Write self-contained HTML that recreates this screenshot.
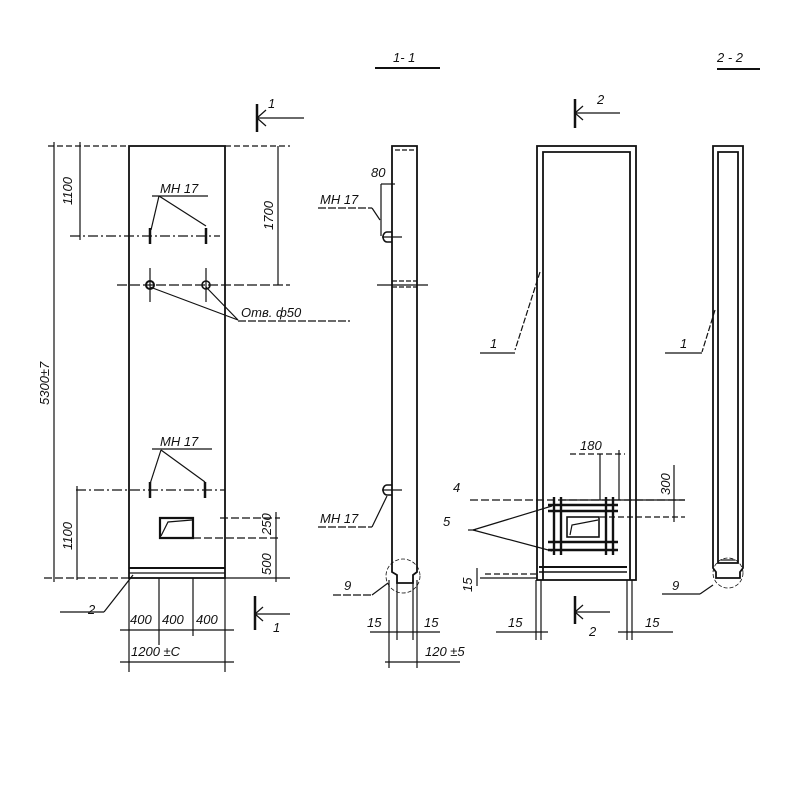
<!DOCTYPE html>
<html><head><meta charset="utf-8"><style>
html,body{margin:0;padding:0;background:#fff}
svg{display:block}
text{font-family:"Liberation Sans",sans-serif;font-style:italic;fill:#111;font-size:13px}
</style></head><body>
<svg width="800" height="800" viewBox="0 0 800 800" xmlns="http://www.w3.org/2000/svg">
<g stroke="#111" fill="none" stroke-width="1.2">
<!-- main panel -->
<rect x="129" y="146" width="96" height="432" stroke-width="1.8"/>
<line x1="129" y1="568" x2="225" y2="568" stroke-width="2"/>
<line x1="129" y1="573" x2="225" y2="573"/>
<!-- top dims -->
<line x1="48" y1="146" x2="129" y2="146" stroke-dasharray="6 3"/>
<line x1="225" y1="146" x2="290" y2="146" stroke-dasharray="6 3"/>
<line x1="54" y1="142" x2="54" y2="582"/>
<line x1="80" y1="142" x2="80" y2="240"/>
<line x1="278" y1="146" x2="278" y2="285"/>
<line x1="70" y1="236" x2="220" y2="236" stroke-dasharray="10 3 2 3"/>
<line x1="117" y1="285" x2="290" y2="285" stroke-dasharray="10 3"/>
<line x1="150" y1="228" x2="150" y2="244" stroke-width="2.5"/>
<line x1="206" y1="228" x2="206" y2="244" stroke-width="2.5"/>
<line x1="152" y1="196" x2="208" y2="196"/>
<line x1="159" y1="196" x2="151" y2="230"/>
<line x1="159" y1="196" x2="206" y2="226"/>
<circle cx="150" cy="285" r="4" stroke-width="2"/>
<circle cx="206" cy="285" r="4" stroke-width="1.6"/>
<line x1="150" y1="268" x2="150" y2="302"/>
<line x1="206" y1="268" x2="206" y2="302"/>
<line x1="150" y1="287" x2="238" y2="320"/>
<line x1="206" y1="287" x2="238" y2="320"/>
<line x1="238" y1="321" x2="350" y2="321" stroke-dasharray="8 2"/>
<!-- section mark 1 top -->
<line x1="257" y1="104" x2="257" y2="132" stroke-width="2.5"/>
<line x1="257" y1="118" x2="304" y2="118"/>
<line x1="257" y1="118" x2="266" y2="110"/><line x1="257" y1="118" x2="266" y2="126"/>
<!-- lower MH17 -->
<line x1="152" y1="449" x2="212" y2="449"/>
<line x1="161" y1="450" x2="150" y2="484"/>
<line x1="161" y1="450" x2="205" y2="482"/>
<line x1="76" y1="490" x2="225" y2="490" stroke-dasharray="10 3 2 3"/>
<line x1="150" y1="482" x2="150" y2="498" stroke-width="2.5"/>
<line x1="205" y1="482" x2="205" y2="498" stroke-width="2.5"/>
<line x1="77" y1="486" x2="77" y2="580"/>
<line x1="44" y1="578" x2="129" y2="578" stroke-dasharray="8 3"/>
<!-- opening -->
<path d="M160 518 H193 V538 H160 Z" stroke-width="2.2"/>
<path d="M161 536 L168 522 L192 520"/>
<line x1="220" y1="518" x2="280" y2="518" stroke-dasharray="8 3"/>
<line x1="193" y1="538" x2="280" y2="538" stroke-dasharray="8 3"/>
<line x1="276" y1="512" x2="276" y2="582"/>
<line x1="225" y1="578" x2="290" y2="578"/>
<!-- leader 2 -->
<line x1="133" y1="575" x2="104" y2="612"/>
<line x1="60" y1="612" x2="104" y2="612"/>
<!-- bottom dims -->
<line x1="129" y1="578" x2="129" y2="672"/>
<line x1="159" y1="578" x2="159" y2="645"/>
<line x1="193" y1="578" x2="193" y2="636"/>
<line x1="225" y1="578" x2="225" y2="672"/>
<line x1="120" y1="630" x2="234" y2="630"/>
<line x1="120" y1="662" x2="234" y2="662"/>
<line x1="255" y1="596" x2="255" y2="630" stroke-width="2.5"/>
<line x1="255" y1="614" x2="290" y2="614"/>
<line x1="255" y1="614" x2="263" y2="607"/><line x1="255" y1="614" x2="263" y2="621"/>
<!-- 1-1 title -->
<line x1="375" y1="68" x2="440" y2="68" stroke-width="2"/>
<line x1="717" y1="69" x2="760" y2="69" stroke-width="2"/>
<!-- side view -->
<path d="M392 146 H417 V572 L413 575 V583 H397 V575 L392 572 Z" stroke-width="1.8"/>
<line x1="395" y1="150" x2="414" y2="150" stroke-dasharray="5 2"/>
<line x1="392" y1="281" x2="417" y2="281" stroke-dasharray="5 2"/>
<line x1="392" y1="287" x2="417" y2="287" stroke-dasharray="5 2"/>
<line x1="377" y1="285" x2="428" y2="285"/>
<line x1="382" y1="237" x2="402" y2="237"/>
<path d="M392 232 h-5 a4 5 0 0 0 0 10 h5" stroke-width="1.6"/>
<line x1="382" y1="490" x2="402" y2="490"/>
<path d="M392 485 h-5 a4 5 0 0 0 0 10 h5" stroke-width="1.6"/>
<line x1="381" y1="184" x2="381" y2="236"/>
<line x1="381" y1="184" x2="395" y2="184"/>
<line x1="318" y1="208" x2="372" y2="208" stroke-dasharray="8 2"/>
<line x1="372" y1="208" x2="380" y2="220"/>
<line x1="318" y1="527" x2="372" y2="527" stroke-dasharray="8 2"/>
<line x1="372" y1="527" x2="387" y2="496"/>
<circle cx="403" cy="576" r="17" stroke-dasharray="4 2" stroke-width="0.8"/>
<line x1="333" y1="595" x2="372" y2="595" stroke-dasharray="8 2"/>
<line x1="372" y1="595" x2="388" y2="583"/>
<line x1="389" y1="580" x2="389" y2="668"/>
<line x1="397" y1="580" x2="397" y2="640"/>
<line x1="413" y1="580" x2="413" y2="640"/>
<line x1="417" y1="580" x2="417" y2="668"/>
<line x1="370" y1="632" x2="440" y2="632"/>
<line x1="385" y1="662" x2="460" y2="662"/>
<!-- 2-2 view -->
<rect x="537" y="146" width="99" height="434" stroke-width="1.8"/>
<path d="M543 580 V152 H630 V580" stroke-width="1.8"/>
<line x1="539" y1="567" x2="627" y2="567" stroke-width="2"/>
<line x1="539" y1="572" x2="627" y2="572" stroke-width="1.4"/>
<line x1="575" y1="99" x2="575" y2="128" stroke-width="2.5"/>
<line x1="575" y1="113" x2="620" y2="113"/>
<line x1="575" y1="113" x2="583" y2="106"/><line x1="575" y1="113" x2="583" y2="120"/>
<line x1="575" y1="596" x2="575" y2="624" stroke-width="2.5"/>
<line x1="575" y1="612" x2="610" y2="612"/>
<line x1="575" y1="612" x2="583" y2="605"/><line x1="575" y1="612" x2="583" y2="619"/>
<line x1="540" y1="272" x2="515" y2="350" stroke-dasharray="6 2"/>
<line x1="480" y1="353" x2="515" y2="353"/>
<!-- mesh -->
<g stroke-width="2.4">
<line x1="554" y1="497" x2="554" y2="555"/><line x1="561" y1="497" x2="561" y2="555"/>
<line x1="606" y1="497" x2="606" y2="555"/><line x1="613" y1="497" x2="613" y2="555"/>
<line x1="548" y1="505" x2="618" y2="505"/><line x1="548" y1="511" x2="618" y2="511"/>
<line x1="548" y1="542" x2="618" y2="542"/><line x1="548" y1="550" x2="618" y2="550"/>
</g>
<rect x="567" y="517" width="32" height="20" stroke-width="1.6"/>
<path d="M570 535 L572 525 L598 520" stroke-width="1.2"/>
<line x1="570" y1="454" x2="625" y2="454" stroke-dasharray="6 3"/>
<line x1="600" y1="454" x2="600" y2="500"/>
<line x1="619" y1="450" x2="619" y2="500"/>
<line x1="470" y1="500" x2="685" y2="500" stroke-dasharray="8 3"/>
<line x1="560" y1="500" x2="685" y2="500"/>
<line x1="600" y1="517" x2="685" y2="517" stroke-dasharray="6 3"/>
<line x1="674" y1="465" x2="674" y2="522"/>
<line x1="473" y1="530" x2="552" y2="506"/>
<line x1="473" y1="530" x2="552" y2="551"/>
<line x1="468" y1="530" x2="476" y2="530"/>
<line x1="480" y1="578" x2="537" y2="578"/>
<line x1="485" y1="574" x2="537" y2="574" stroke-dasharray="6 3"/>
<line x1="477" y1="568" x2="477" y2="586"/>
<line x1="536" y1="580" x2="536" y2="640"/>
<line x1="541" y1="580" x2="541" y2="640"/>
<line x1="627" y1="580" x2="627" y2="640"/>
<line x1="632" y1="580" x2="632" y2="640"/>
<line x1="496" y1="632" x2="548" y2="632"/>
<line x1="618" y1="632" x2="673" y2="632"/>
<!-- right narrow -->
<path d="M713 146 H743 V568 L740 572 V578 H716 V572 L713 568 Z" stroke-width="1.8"/>
<path d="M718 563 V152 H738 V563 Z" stroke-width="1.8"/>
<line x1="721" y1="560" x2="735" y2="560"/>
<circle cx="728" cy="573" r="15" stroke-dasharray="4 2" stroke-width="0.8"/>
<line x1="715" y1="310" x2="702" y2="352" stroke-dasharray="6 2"/>
<line x1="665" y1="353" x2="702" y2="353"/>
<line x1="662" y1="594" x2="700" y2="594"/>
<line x1="700" y1="594" x2="713" y2="585"/>
</g>
<text x="268" y="108">1</text>
<text x="273" y="632">1</text>
<text x="393" y="62" font-size="15">1- 1</text>
<text x="717" y="62" font-size="15">2 - 2</text>
<text x="597" y="104" font-size="15">2</text>
<text x="589" y="636" font-size="15">2</text>
<text x="160" y="193" font-size="12">MH 17</text>
<text x="160" y="446" font-size="12">MH 17</text>
<text x="320" y="204" font-size="12">MH 17</text>
<text x="320" y="523" font-size="12">MH 17</text>
<text x="241" y="317" font-size="14">Отв. ф50</text>
<text x="371" y="177" font-size="11">80</text>
<text x="580" y="450" font-size="11">180</text>
<text x="88" y="614" font-size="15">2</text>
<text x="344" y="590" font-size="14">9</text>
<text x="672" y="590" font-size="14">9</text>
<text x="490" y="348" font-size="14">1</text>
<text x="680" y="348" font-size="14">1</text>
<text x="453" y="492" font-size="14">4</text>
<text x="443" y="526" font-size="15">5</text>
<text x="130" y="624" font-size="11">400</text>
<text x="162" y="624" font-size="11">400</text>
<text x="196" y="624" font-size="11">400</text>
<text x="131" y="656" font-size="12">1200 ±C</text>
<text x="367" y="627" font-size="11">15</text>
<text x="424" y="627" font-size="11">15</text>
<text x="425" y="656" font-size="12">120 ±5</text>
<text x="508" y="627" font-size="11">15</text>
<text x="645" y="627" font-size="11">15</text>
<g font-size="12">
<text transform="translate(72 205) rotate(-90)">1100</text>
<text transform="translate(72 550) rotate(-90)">1100</text>
<text transform="translate(49 405) rotate(-90)" font-size="13">5300±7</text>
<text transform="translate(273 230) rotate(-90)">1700</text>
<text transform="translate(271 535) rotate(-90)">250</text>
<text transform="translate(271 575) rotate(-90)">500</text>
<text transform="translate(670 495) rotate(-90)">300</text>
<text transform="translate(472 592) rotate(-90)" font-size="10">15</text>
</g>
</svg>
</body></html>
